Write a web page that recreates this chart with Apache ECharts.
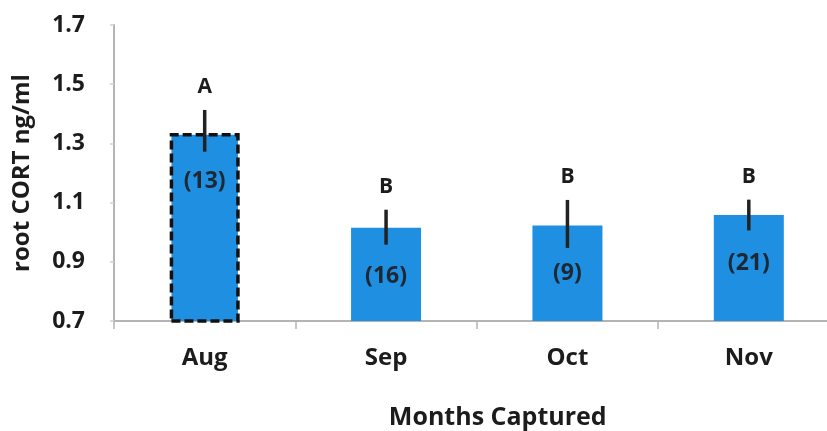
<!DOCTYPE html>
<html>
<head>
<meta charset="utf-8">
<script src="https://cdn.jsdelivr.net/npm/echarts@6/dist/echarts.min.js"></script>
<style>
  html, body { margin: 0; padding: 0; background: #fff; }
  #chart { width: 827px; height: 431px; }
</style>
</head>
<body>
<div id="chart"></div>
<script>
const months = ['Aug', 'Sep', 'Oct', 'Nov'];
const meanCort = [1.335, 1.015, 1.023, 1.058];
const errLow = [1.272, 0.958, 0.947, 1.006];
const errHigh = [1.413, 1.076, 1.109, 1.110];
const sampleSizes = ['(13)', '(16)', '(9)', '(21)'];
const groupLetters = ['A', 'B', 'B', 'B'];
const yMin = 0.7, yMax = 1.7, yStep = 0.2;

const FONT = '"Open Sans", "DejaVu Sans", sans-serif';
const TXT = '#1c1c1c';
const AXIS = '#b4b4b4';
const BLUE = '#1f8fe2';

const barData = meanCort.map((v, i) => {
  const d = { value: v };
  if (i === 0) {
    d.itemStyle = { borderColor: '#111', borderWidth: 3.5, borderType: [9, 4] };
  }
  return d;
});

const errData = months.map((m, i) => [i, errLow[i], errHigh[i]]);

const chart = echarts.init(document.getElementById('chart'), null, { renderer: 'canvas' });
chart.setOption({
  backgroundColor: '#fff',
  animation: false,
  grid: { left: 114, right: -12.5, top: 25, bottom: 110, containLabel: false, outerBoundsMode: 'none' },
  xAxis: {
    type: 'category',
    data: months,
    name: 'Months Captured',
    nameLocation: 'middle',
    nameGap: 84,
    nameTextStyle: { fontFamily: FONT, fontWeight: 'bold', fontSize: 25, color: TXT, padding: [0, 0, 0, 42] },
    axisLine: { lineStyle: { color: AXIS, width: 2 } },
    axisTick: { show: true, length: 8, lineStyle: { color: AXIS, width: 1.5 } },
    axisLabel: { fontFamily: FONT, fontWeight: 'bold', fontSize: 24, color: TXT, margin: 25 },
    splitLine: { show: false }
  },
  yAxis: {
    type: 'value',
    min: yMin,
    max: yMax,
    interval: yStep,
    name: 'root CORT ng/ml',
    nameLocation: 'middle',
    nameRotate: 90,
    nameGap: 80,
    nameTextStyle: { fontFamily: FONT, fontWeight: 'bold', fontSize: 24, color: TXT },
    axisLine: { show: true, lineStyle: { color: AXIS, width: 2 } },
    axisTick: { show: true, length: 4, lineStyle: { color: '#d0d0d0', width: 1.5 } },
    axisLabel: {
      fontFamily: FONT, fontWeight: 'bold', fontSize: 23, color: TXT, margin: 29,
      formatter: v => v.toFixed(1)
    },
    splitLine: { show: false }
  },
  series: [
    {
      type: 'bar',
      data: barData,
      barWidth: 70,
      itemStyle: { color: BLUE },
      label: {
        show: true,
        position: 'insideTop',
        distance: 37,
        formatter: p => sampleSizes[p.dataIndex],
        fontFamily: FONT, fontWeight: 'bold', fontSize: 23, color: '#1e2833'
      },
      z: 2
    },
    {
      type: 'custom',
      data: errData,
      z: 5,
      renderItem: function (params, api) {
        const idx = api.value(0);
        const lo = api.coord([idx, api.value(1)]);
        const hi = api.coord([idx, api.value(2)]);
        return {
          type: 'group',
          children: [
            {
              type: 'line',
              shape: { x1: hi[0], y1: hi[1], x2: lo[0], y2: lo[1] },
              style: { stroke: '#222', lineWidth: 3.5 }
            },
            {
              type: 'text',
              style: {
                text: groupLetters[params.dataIndex],
                x: hi[0], y: hi[1] - 23,
                align: 'center', verticalAlign: 'middle',
                fontFamily: FONT, fontWeight: 'bold', fontSize: 21, fill: TXT
              }
            }
          ]
        };
      }
    }
  ]
});
</script>
</body>
</html>
